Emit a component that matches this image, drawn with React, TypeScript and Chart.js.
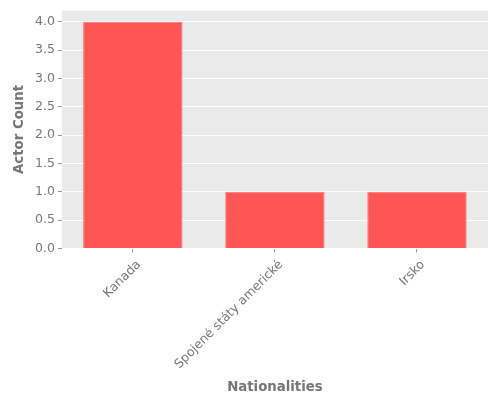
import React, { useEffect, useRef } from 'react'
import { Chart, registerables } from 'chart.js'

Chart.register(...registerables)

const nationalities = ['Kanada', 'Spojené státy americké', 'Irsko']
const actorCounts = [4, 1, 1]
const yTickValues = [0, 0.5, 1, 1.5, 2, 2.5, 3, 3.5, 4]

const panelBackground = {
	id: 'panelBackground',
	beforeDraw(chart: Chart) {
		const { ctx, chartArea } = chart
		ctx.save()
		ctx.fillStyle = '#EAEAEA'
		ctx.fillRect(chartArea.left, chartArea.top, chartArea.width, chartArea.height)
		ctx.restore()
	},
}

const App: React.FC = () => {
	const chartRef = useRef<HTMLCanvasElement>(null)

	useEffect(() => {
		document.body.style.margin = '0'
		if (!chartRef.current) return
		const context = chartRef.current.getContext('2d')
		if (!context) return

		const chart = new Chart(context, {
			type: 'bar',
			data: {
				labels: nationalities,
				datasets: [
					{
						label: 'Actor Count',
						data: actorCounts,
						backgroundColor: '#FF5555',
						borderColor: '#FF7777',
						borderWidth: 1,
						barPercentage: 0.7,
						categoryPercentage: 1,
					},
				],
			},
			options: {
				animation: false,
				responsive: false,
				layout: { padding: { top: 10, right: 12, left: 8, bottom: 0 } },
				plugins: {
					legend: { display: false },
					tooltip: { enabled: false },
				},
				scales: {
					x: {
						grid: {
							color: 'transparent',
							tickColor: '#999',
							tickLength: 4,
							offset: false,
						},
						border: { display: false },
						ticks: {
							minRotation: 45,
							maxRotation: 45,
							padding: 5,
							labelOffset: 6,
							color: '#777',
							font: { family: 'DejaVu Sans', size: 12.5 },
						},
						title: {
							display: true,
							text: 'Nationalities',
							color: '#777',
							font: { family: 'DejaVu Sans', size: 13.3, weight: 'bold' },
							padding: { top: 3 },
						},
					},
					y: {
						min: 0,
						max: 4.2,
						afterBuildTicks: (scale: any) => {
							scale.ticks = yTickValues.map((value) => ({ value }))
						},
						grid: {
							color: '#FFFFFF',
							tickColor: '#999',
							tickLength: 4,
						},
						border: { display: false },
						ticks: {
							color: '#777',
							font: { family: 'DejaVu Sans', size: 12.5 },
							callback: (v: any) => Number(v).toFixed(1),
						},
						title: {
							display: true,
							text: 'Actor Count',
							color: '#777',
							font: { family: 'DejaVu Sans', size: 13.3, weight: 'bold' },
						},
					},
				},
			},
			plugins: [panelBackground],
		})

		return () => {
			chart.destroy()
		}
	}, [])

	return <canvas ref={chartRef} width={500} height={400} />
}

export default App
